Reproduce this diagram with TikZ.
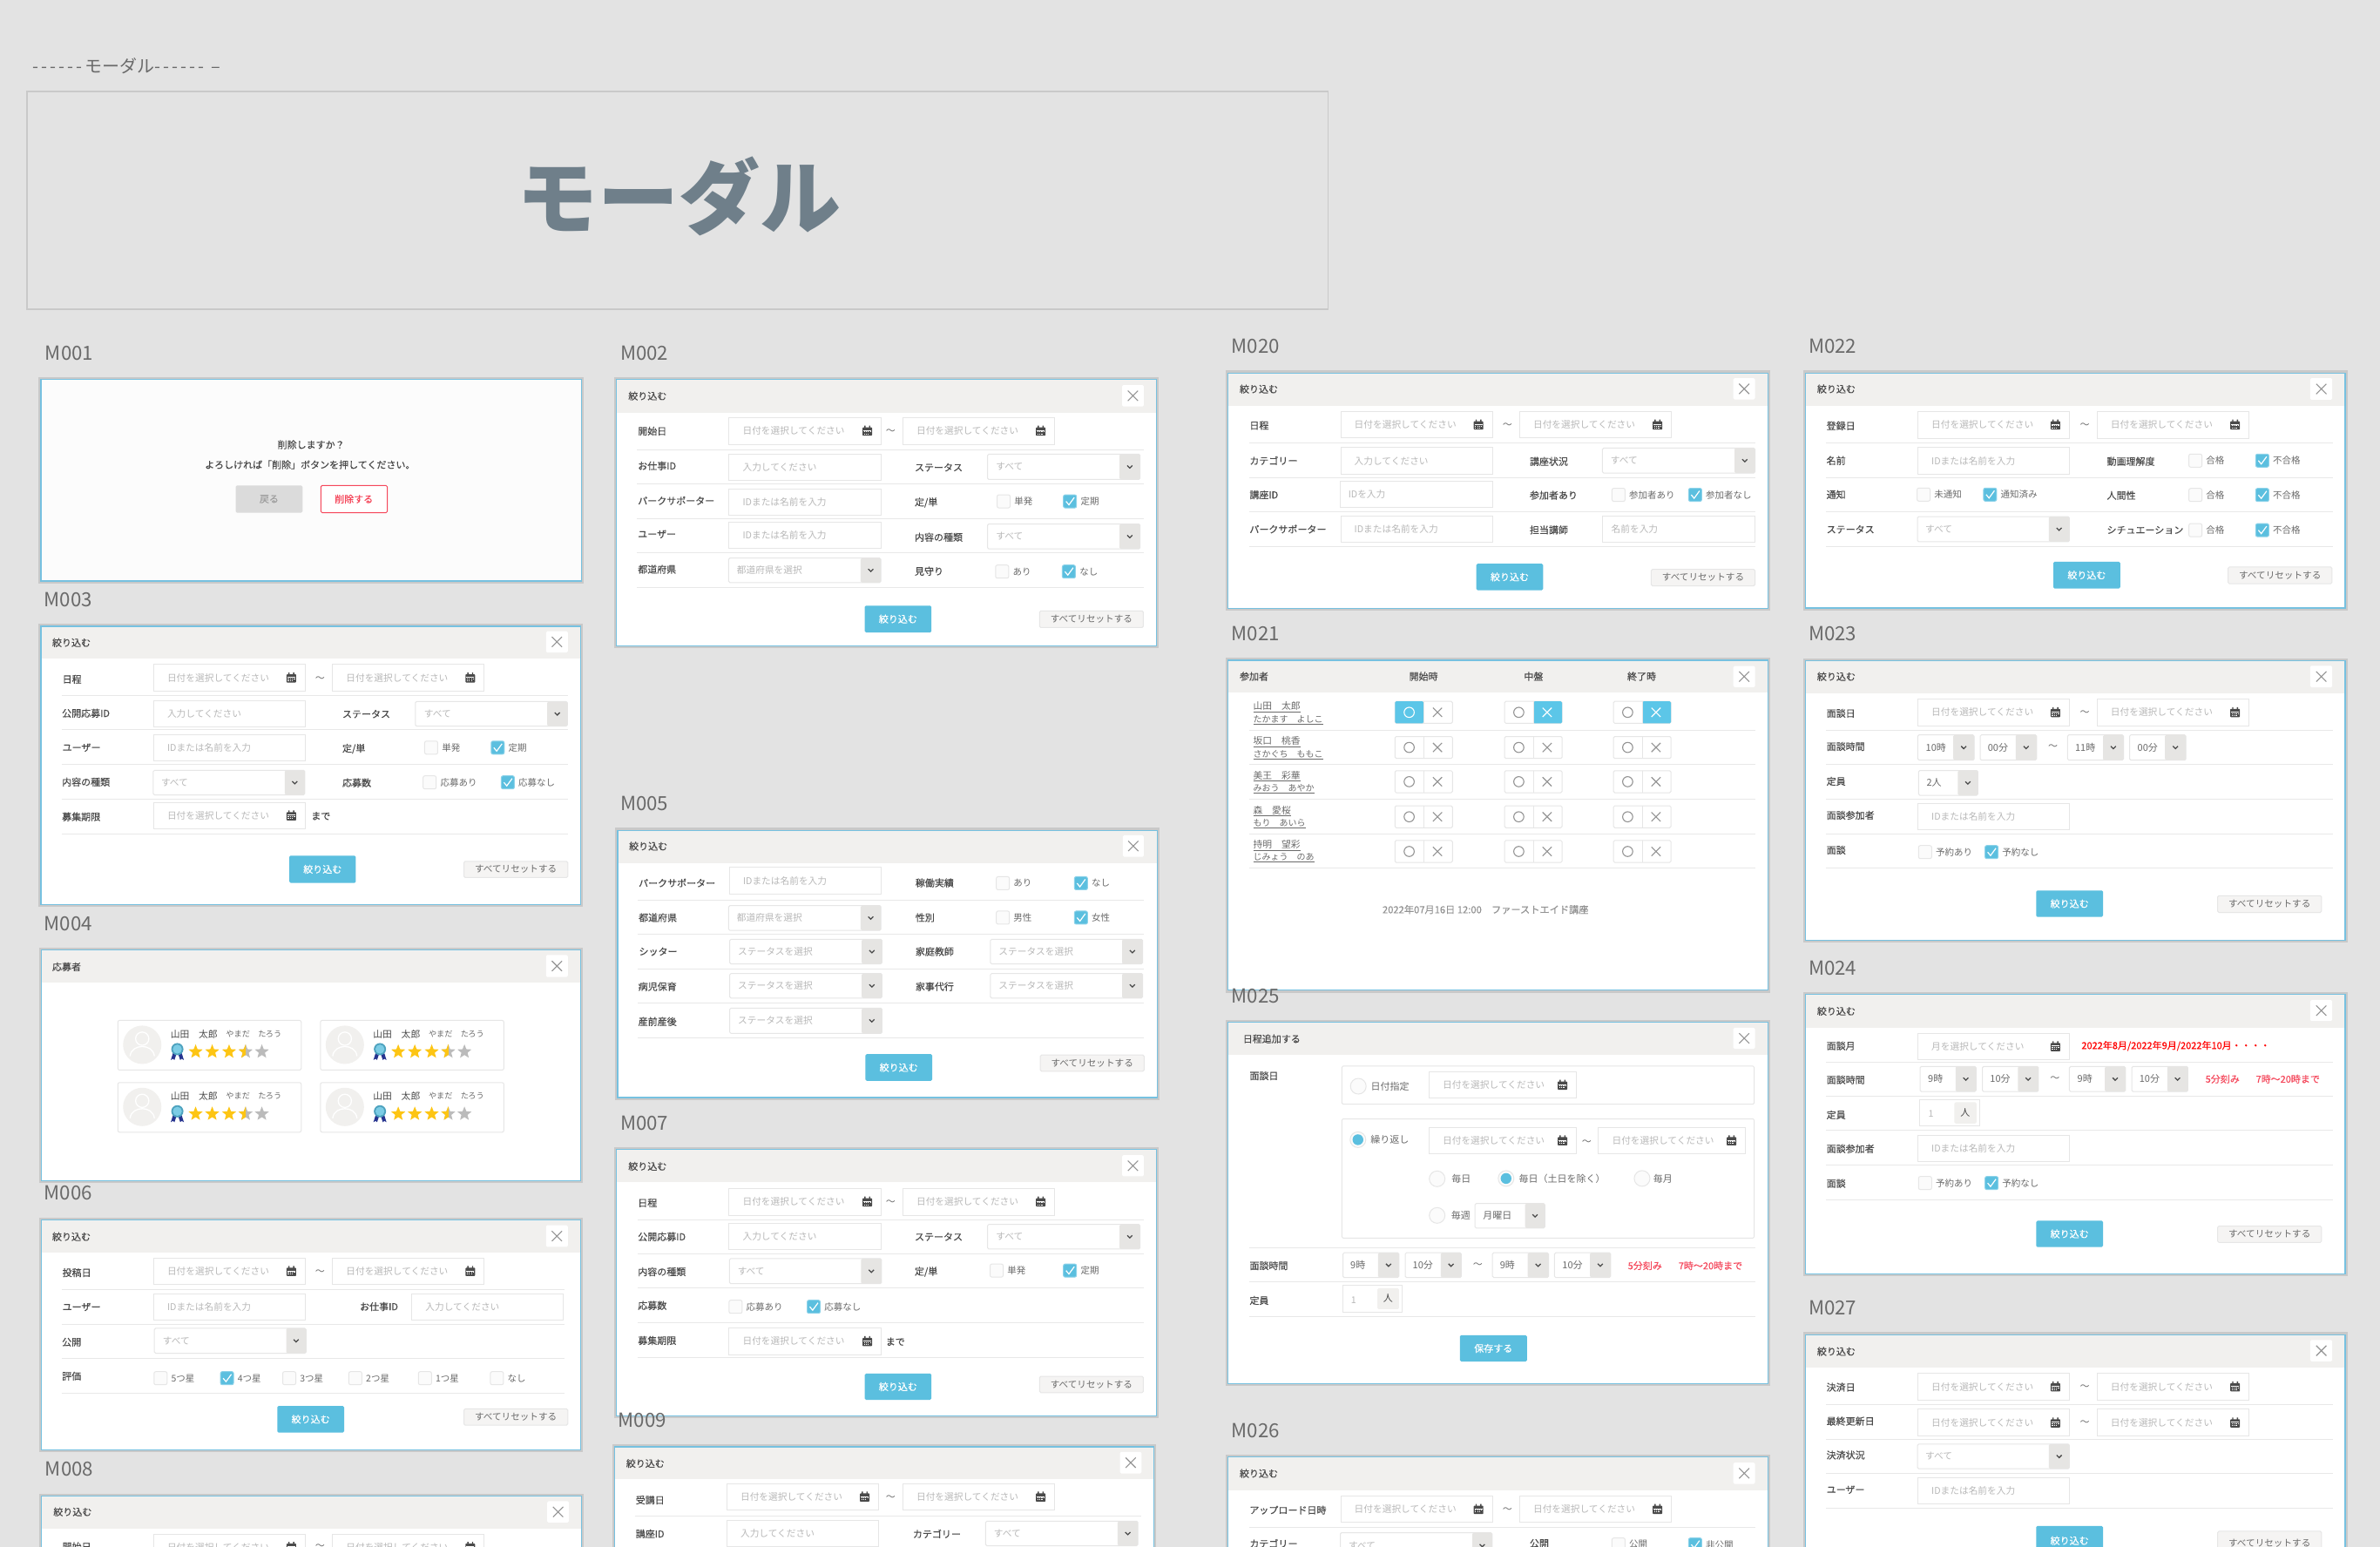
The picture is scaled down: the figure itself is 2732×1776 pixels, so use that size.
\documentclass[tikz,border=0pt]{standalone}
\usepackage{fontspec}
\setmainfont{Noto Sans CJK JP}
\newfontfamily\jpm[FakeBold=0.35]{Noto Sans CJK JP}
\usetikzlibrary{calc,shapes.geometric}
\definecolor{bgc}{HTML}{E3E3E3}
\definecolor{edgec}{HTML}{C9C9C9}
\definecolor{bluee}{HTML}{76C1E0}
\definecolor{headc}{HTML}{F1F0EE}
\definecolor{rulec}{HTML}{E8E8E8}
\definecolor{boxc}{HTML}{E6E6E6}
\definecolor{phc}{HTML}{B8B8B8}
\definecolor{lblc}{HTML}{4A4A4A}
\definecolor{txtc}{HTML}{6A6A6A}
\definecolor{prim}{HTML}{5BBFDF}
\definecolor{togb}{HTML}{5CC6E8}
\definecolor{redt}{HTML}{F5475B}
\definecolor{slate}{HTML}{6F7F8A}
\definecolor{gold}{HTML}{FDC514}
\definecolor{silv}{HTML}{BBBBBB}
\definecolor{navy}{HTML}{26348F}
\tikzset{
  zf/.style n args={4}{shift={(#1pt,-#2pt)},x={(1pt/#3,0pt)},y={(0pt,-1pt/#4)}},
  mtext/.style={anchor=west,inner sep=0pt},
  mlbl/.style={mtext,text=lblc,font=\fontsize{11}{13}\selectfont\jpm},
  mph/.style={mtext,text=phc,font=\fontsize{10.7}{13}\selectfont},
  mopt/.style={mtext,text=txtc,font=\fontsize{10.5}{13}\selectfont},
  mname/.style={mtext,text=txtc,font=\fontsize{22.3}{26}\selectfont},
  mred/.style={mtext,text=redt,font=\fontsize{11}{13}\selectfont\jpm},
  mbox/.style={draw=boxc,line width=1pt,fill=white},
  msmall/.style={draw=boxc,line width=1pt,fill=white,rounded corners=1.5pt},
}
\newcommand\mDashes{-\kern3.1pt-\kern3.1pt-\kern3.1pt-\kern3.1pt-\kern3.1pt-\kern3.1pt}
\newcommand\mName[3]{\node[mname] at (#1,#2) {#3};}
\newcommand\mPanel[5][white]{%
  \fill[edgec] ([shift={(-2.8pt,2.8pt)}]#2,#3) rectangle ([shift={(2.8pt,-2.8pt)}]#4,#5);
  \filldraw[fill=#1,draw=bluee,line width=1.4pt] (#2,#3) rectangle (#4,#5);}
\newcommand\mHead[7]{%
  \fill[headc] ([shift={(.7pt,-.7pt)}]#1,#2) rectangle ([xshift=-.7pt]#3,#4);
  \node[mtext,text=lblc,font=\fontsize{11}{13}\selectfont\jpm] at (#5,#6) {#7};}
\newcommand\mClose[4]{%
  \fill[white,rounded corners=1.5pt] (#1,#2) rectangle (#3,#4);
  \coordinate (mC) at ($(#1,#2)!.5!(#3,#4)$);
  \begin{scope}[shift={(mC)},x=1pt,y=-1pt]
    \draw[color=gray!85,line width=1.1pt] (-5.8,-5.8) -- (5.8,5.8) (-5.8,5.8) -- (5.8,-5.8);
  \end{scope}}
\newcommand\mLbl[3]{\node[mlbl] at (#1,#2) {#3};}
\newcommand\mCal[1]{%
  \begin{scope}[shift={(#1)},x=1pt,y=-1pt]
    \fill[color=lblc,rounded corners=.8pt] (-5.5,-4) rectangle (5.5,5.5);
    \fill[color=lblc] (-3.4,-6) rectangle (-2,-3) (2,-6) rectangle (3.4,-3);
    \fill[white] (-4.3,-.9) rectangle (4.3,-.3);
    \foreach \mx in {-3.4,-1,1.4,3.6}{\fill[white] (\mx-.6,.8) rectangle (\mx+.5,1.8);}
    \foreach \mx in {-3.4,-1,1.4}{\fill[white] (\mx-.6,2.9) rectangle (\mx+.5,3.9);}
  \end{scope}}
\newcommand\mDate[5]{%
  \draw[mbox] (#1,#2) rectangle (#3,#4);
  \coordinate (mL) at ($(#1,#2)!.5!(#1,#4)$);
  \coordinate (mR) at ($(#3,#2)!.5!(#3,#4)$);
  \node[mph] at ([xshift=15.5pt]mL) {#5};
  \mCal{$(mR)+(-16pt,0pt)$}}
\newcommand\mTxt[6][15.5]{%
  \draw[mbox] (#2,#3) rectangle (#4,#5);
  \coordinate (mL) at ($(#2,#3)!.5!(#2,#5)$);
  \node[mph] at ([xshift=#1pt]mL) {#6};}
\newcommand\mSelBase[5]{%
  \draw[msmall] (#1,#2) rectangle (#3,#4);
  \fill[color=headc!90!gray,rounded corners=1.5pt] (#5,#2) rectangle (#3,#4);
  \coordinate (mC) at ($(#5,#2)!.5!(#3,#4)$);
  \begin{scope}[shift={(mC)},x=1pt,y=-1pt]
    \draw[color=lblc,line width=1.25pt] (-2.9,-1.5) -- (0,1.4) -- (2.9,-1.5);
  \end{scope}
  \coordinate (mL) at ($(#1,#2)!.5!(#1,#4)$);}
\newcommand\mSel[7]{\mSelBase{#1}{#2}{#3}{#4}{#5}\coordinate (mT) at (#6,0);\node[mph] at (mT |- mL) {#7};}
\newcommand\mTime[7]{\mSelBase{#1}{#2}{#3}{#4}{#5}\coordinate (mT) at (#6,0);\node[mopt,font=\fontsize{11}{13}\selectfont] at (mT |- mL) {#7};}
\newcommand\mCk[3]{%
  \draw[draw=boxc,fill=white!97!gray,line width=1pt,rounded corners=2pt] ([yshift=7.5pt]#1,#2) rectangle ([shift={(15pt,-7.5pt)}]#1,#2);
  \node[mopt] at ([xshift=19.6pt]#1,#2) {#3};}
\newcommand\mCkOn[3]{%
  \draw[draw=prim!70,fill=prim,line width=1pt,rounded corners=2pt] ([yshift=7.5pt]#1,#2) rectangle ([shift={(15pt,-7.5pt)}]#1,#2);
  \begin{scope}[shift={(#1,#2)},x=1pt,y=-1pt]
    \draw[white,line width=1.2pt] (3,0) -- (6.3,4) -- (12.5,-4.5);
  \end{scope}
  \node[mopt] at ([xshift=19.6pt]#1,#2) {#3};}
\newcommand\mRule[3]{\draw[rulec,line width=1pt] (#1,#3) -- (#2,#3);}
\newcommand\mBtn[5]{%
  \fill[prim,rounded corners=1.5pt] (#1,#2) rectangle (#3,#4);
  \node[inner sep=0pt,text=white,font=\fontsize{11}{13}\selectfont\jpm] at ($(#1,#2)!.5!(#3,#4)$) {#5};}
\newcommand\mReset[4]{%
  \draw[draw=boxc,fill=headc!70!white,line width=1pt,rounded corners=1.5pt] (#1,#2) rectangle (#3,#4);
  \node[inner sep=0pt,text=txtc,font=\fontsize{10.6}{13}\selectfont] at ($(#1,#2)!.5!(#3,#4)$) {すべてリセットする};}
\newcommand\mTilde[2]{\node[inner sep=0pt,text=txtc,font=\fontsize{11}{13}\selectfont] at (#1,#2) {〜};}
\newcommand\mStar[3]{\node[star,star points=5,star point ratio=2.3,inner sep=0pt,minimum size=17pt,fill=#3] at (#1,#2) {};}
\newcommand\mCard[2]{%
  \begin{scope}[shift={(#1,#2)},x=1pt,y=-1pt]
    \draw[draw=boxc,fill=white,line width=1pt,rounded corners=2pt] (0,0) rectangle (210.5,57);
    \fill[headc] (28,28) circle[radius=22pt];
    \draw[white,line width=1.3pt] (28,21) circle[radius=7.6pt];
    \draw[white,line width=1.3pt] (14,41) .. controls (15,33) and (22,30) .. (28,30) .. controls (34,30) and (41,33) .. (42,41);
    \node[mtext,text=lblc,font=\fontsize{10.8}{13}\selectfont] at (60.3,15.5) {山田　太郎};
    \node[mtext,text=txtc,font=\fontsize{9.2}{13}\selectfont] at (124,15.5) {やまだ　たろう};
    \fill[navy] (63.3,37.5) -- (60.8,45.5) -- (63.3,44) -- (65,45.5) -- (67.3,38.5) -- cycle;
    \fill[navy] (73.3,37.5) -- (75.8,45.5) -- (73.3,44) -- (71.6,45.5) -- (69.3,38.5) -- cycle;
    \fill[color=prim!85!black] (68.3,33) circle[radius=7pt];
    \fill[color=prim!80!white] (68.3,33) circle[radius=5.2pt];
    \mStar{89.3}{36}{gold}\mStar{108.3}{36}{gold}\mStar{127.7}{36}{gold}
    \mStar{146.7}{36}{silv}
    \begin{scope}\clip (136,24) rectangle (146.9,48);\mStar{146.7}{36}{gold}\end{scope}
    \mStar{165.3}{36}{silv}
  \end{scope}}
\newcommand\mTog[4]{%
  \coordinate (mA) at ($(#1,#2)!.5!(#1,#3)$);
  \ifnum#4=1 \def\mOc{white}\else\def\mOc{gray!85}\fi
  \ifnum#4=2 \def\mXc{white}\else\def\mXc{gray!85}\fi
  \begin{scope}[shift={(mA)},x=1pt,y=-1pt]
    \draw[draw=boxc,fill=white,line width=1pt,rounded corners=1.5pt] (0,-12.6) rectangle (66,12.6);
    \ifnum#4=1 \fill[togb,rounded corners=1.5pt] (0,-12.6) rectangle (33,12.6);\fi
    \ifnum#4=2 \fill[togb,rounded corners=1.5pt] (33,-12.6) rectangle (66,12.6);\fi
    \draw[boxc,line width=1pt] (33,-12.6) -- (33,12.6);
    \draw[draw=\mOc,line width=1.1pt] (16.3,0) circle[radius=5.8pt];
    \draw[draw=\mXc,line width=1.1pt] (43.6,-5.2) -- (54,5.2) (43.6,5.2) -- (54,-5.2);
  \end{scope}}
\newcommand\mPart[4]{%
  \node[mtext,text=txtc,font=\fontsize{10.8}{13}\selectfont] at (115,#1) {\underline{#3}};
  \node[mtext,text=txtc,font=\fontsize{10}{13}\selectfont] at (115,#2) {\underline{#4}};}
\newcommand\mRadio[3][0]{%
  \draw[draw=boxc,fill=white!97!gray,line width=1pt] (#2,#3) circle[radius=9pt];
  \ifnum#1=1 \fill[prim] (#2,#3) circle[radius=6.2pt];\fi}
\newcommand\mPeople[4]{%
  \draw[draw=boxc,fill=white,line width=1pt] (#1,#2) rectangle (#3,#4);}
\begin{document}
\begin{tikzpicture}[x=1pt,y=1pt]
\useasboundingbox (0pt,0pt) rectangle (2732pt,-1776pt);
\fill[bgc] (0pt,0pt) rectangle (2732pt,-1776pt);
% title block
\node[mtext,text=txtc,font=\fontsize{20}{24}\selectfont] (heading) at (37pt,-76pt) {\mDashes モーダル\mDashes{} –};
\fill[edgec] (30pt,-104pt) rectangle (1525pt,-356pt);
\fill[bgc] (31.5pt,-106pt) rectangle (1523.5pt,-354pt);
\node[inner sep=0pt,text=slate,font=\fontsize{93}{100}\selectfont\bfseries] (bigtitle) at (779pt,-225pt) {モーダル};

% ---------- zoom 1
\begin{scope}[zf={0}{380}{2.24}{2.306}]
\mName{116}{58}{M001}
\mPanel[white!98!gray]{105}{128}{1495}{662}
\node[inner sep=0pt,text=lblc,font=\fontsize{11}{13}\selectfont\jpm] at (800,301) {削除しますか？};
\node[inner sep=0pt,text=lblc,font=\fontsize{11}{13}\selectfont\jpm] at (797,354) {よろしければ「削除」ボタンを押してください。};
\fill[color=gray!28,rounded corners=1.5pt] (606,409) rectangle (778,481);
\node[inner sep=0pt,text=gray!75,font=\fontsize{11}{13}\selectfont\jpm] at (692,445) {戻る};
\draw[draw=redt,fill=white,line width=1pt,rounded corners=1.5pt] (825,409) rectangle (996,481);
\node[inner sep=0pt,text=redt,font=\fontsize{11}{13}\selectfont\jpm] at (910,445) {削除する};
\mName{113}{711}{M003}
\mPanel{105}{782}{1493}{1518}
\mHead{105}{782}{1493}{867}{134}{825}{絞り込む}
\mClose{1404}{795}{1460}{851}
\mLbl{160}{922}{日程}
\mDate{395}{883}{785}{953}{日付を選択してください}
\mTilde{823}{921}
\mDate{855}{883}{1245}{953}{日付を選択してください}
\mRule{159}{1461}{965}
\mLbl{159}{1012}{公開応募ID}
\mTxt{395}{979}{785}{1048}{入力してください}
\mLbl{880}{1014}{ステータス}
\mSel{1068}{981}{1459}{1046}{1407}{1090}{すべて}
\mRule{159}{1461}{1056}
\mLbl{160}{1103}{ユーザー}
\mTxt{395}{1069}{785}{1139}{IDまたは名前を入力}
\mLbl{880}{1106}{定/単}
\mCk{1092}{1103}{単発}
\mCkOn{1263}{1103}{定期}
\mRule{159}{1461}{1147}
\mLbl{159}{1194}{内容の種類}
\mSel{394}{1163}{784}{1228}{732}{414}{すべて}
\mLbl{880}{1196}{応募数}
\mCk{1088}{1195}{応募あり}
\mCkOn{1289}{1195}{応募なし}
\mRule{159}{1461}{1239}
\mLbl{159}{1286}{募集期限}
\mDate{395}{1248}{785}{1318}{日付を選択してください}
\mLbl{800}{1284}{まで}
\mRule{159}{1461}{1331}
\mBtn{744}{1389}{915}{1461}{絞り込む}
\mReset{1193}{1404}{1460}{1447}
\end{scope}

% ---------- zoom 3
\begin{scope}[zf={0}{1040}{2.24}{2.13}]
\mName{113}{44}{M004}
\mPanel{107}{108}{1493}{672}
\mHead{107}{108}{1493}{187}{134}{149}{応募者}
\mClose{1404}{120}{1460}{174}
\mCard{303}{280}\mCard{824}{280}\mCard{303}{432}\mCard{824}{432}
\mName{113}{702}{M006}
\mPanel{107}{768}{1493}{1330}
\mHead{107}{768}{1493}{848}{134}{809}{絞り込む}
\mClose{1404}{781}{1460}{834}
\mLbl{160}{897}{投稿日}
\mDate{395}{861}{785}{926}{日付を選択してください}
\mTilde{823}{897}
\mDate{855}{861}{1245}{926}{日付を選択してください}
\mRule{159}{1452}{938}
\mLbl{160}{981}{ユーザー}
\mTxt{395}{949}{785}{1013}{IDまたは名前を入力}
\mLbl{925}{980}{お仕事ID}
\mTxt{1059}{949}{1449}{1013}{入力してください}
\mRule{159}{1452}{1023}
\mLbl{159}{1067}{公開}
\mSel{397}{1033}{787}{1094}{736}{418}{すべて}
\mRule{159}{1452}{1107}
\mLbl{159}{1150}{評価}
\mCk{396}{1155}{5つ星}
\mCkOn{567}{1155}{4つ星}
\mCk{727}{1155}{3つ星}
\mCk{897}{1155}{2つ星}
\mCk{1076}{1155}{1つ星}
\mCk{1261}{1155}{なし}
\mRule{159}{1452}{1192}
\mBtn{713}{1223}{885}{1288}{絞り込む}
\mReset{1193}{1230}{1460}{1270}
\mName{116}{1377}{M008}
\mPanel{107}{1443}{1495}{1900}
\mHead{107}{1443}{1495}{1523}{137}{1482}{絞り込む}
\mClose{1407}{1456}{1463}{1508}
\mLbl{160}{1567}{開始日}
\mDate{395}{1536}{785}{1600}{日付を選択してください}
\mTilde{823}{1567}
\mDate{855}{1536}{1245}{1600}{日付を選択してください}
\end{scope}

% ---------- zoom 2
\begin{scope}[zf={690}{380}{2.376}{2.306}]
\mName{52}{58}{M002}
\mPanel{42}{128}{1515}{834}
\mHead{42}{128}{1515}{217}{74}{172}{絞り込む}
\mClose{1421}{143}{1480}{200}
\mLbl{100}{265}{開始日}
\mDate{349}{229}{764}{300}{日付を選択してください}
\mTilde{790}{267}
\mDate{823}{229}{1237}{300}{日付を選択してください}
\mRule{98}{1480}{315}
\mLbl{100}{357}{お仕事ID}
\mTxt{349}{326}{764}{396}{入力してください}
\mLbl{855}{361}{ステータス}
\mSel{1054}{326}{1470}{393}{1414}{1077}{すべて}
\mRule{98}{1480}{405}
\mLbl{100}{449}{パークサポーター}
\mTxt{349}{418}{764}{488}{IDまたは名前を入力}
\mLbl{855}{454}{定/単}
\mCk{1080}{451}{単発}
\mCkOn{1261}{451}{定期}
\mRule{98}{1480}{497}
\mLbl{100}{538}{ユーザー}
\mTxt{349}{506}{764}{576}{IDまたは名前を入力}
\mLbl{855}{546}{内容の種類}
\mSel{1054}{511}{1470}{577}{1414}{1077}{すべて}
\mRule{98}{1480}{587}
\mLbl{100}{631}{都道府県}
\mSel{348}{601}{763}{666}{708}{370}{都道府県を選択}
\mLbl{855}{636}{見守り}
\mCk{1076}{637}{あり}
\mCkOn{1258}{637}{なし}
\mRule{98}{1480}{679}
\mBtn{719}{727}{901}{798}{絞り込む}
\mReset{1196}{741}{1479}{785}
\mName{52}{1250}{M005}
\mPanel{45}{1322}{1517}{2029}
\mHead{45}{1322}{1517}{1409}{76}{1364}{絞り込む}
\mClose{1423}{1335}{1480}{1392}
\mLbl{102}{1461}{パークサポーター}
\mTxt{350}{1420}{765}{1491}{IDまたは名前を入力}
\mLbl{857}{1461}{稼働実績}
\mCk{1078}{1462}{あり}
\mCkOn{1291}{1462}{なし}
\mRule{100}{1481}{1507}
\mLbl{102}{1553}{都道府県}
\mSel{348}{1521}{763}{1587}{708}{370}{都道府県を選択}
\mLbl{857}{1553}{性別}
\mCk{1078}{1553}{男性}
\mCkOn{1291}{1553}{女性}
\end{scope}

% ---------- zoom 4
\begin{scope}[zf={690}{1060}{2.376}{2.19}]
\mRule{100}{1481}{27}
\mLbl{103}{71}{シッター}
\mSel{351}{40}{766}{102}{711}{373}{ステータスを選択}
\mLbl{857}{71}{家庭教師}
\mSel{1062}{40}{1477}{102}{1421}{1084}{ステータスを選択}
\mRule{100}{1481}{115}
\mLbl{101}{159}{病児保育}
\mSel{351}{126}{766}{188}{711}{373}{ステータスを選択}
\mLbl{857}{159}{家事代行}
\mSel{1062}{126}{1477}{188}{1421}{1084}{ステータスを選択}
\mRule{100}{1481}{201}
\mLbl{101}{247}{産前産後}
\mSel{351}{213}{766}{277}{711}{373}{ステータスを選択}
\mRule{100}{1481}{288}
\mBtn{721}{329}{903}{396}{絞り込む}
\mReset{1198}{331}{1481}{372}
\mName{52}{502}{M007}
\mPanel{42}{568}{1515}{1238}
\mHead{42}{568}{1515}{651}{74}{611}{絞り込む}
\mClose{1421}{583}{1480}{636}
\mLbl{100}{703}{日程}
\mDate{349}{666}{764}{734}{日付を選択してください}
\mTilde{790}{703}
\mDate{823}{666}{1237}{734}{日付を選択してください}
\mRule{100}{1481}{745}
\mLbl{100}{788}{公開応募ID}
\mTxt{349}{754}{764}{821}{入力してください}
\mLbl{855}{788}{ステータス}
\mSel{1054}{757}{1470}{819}{1414}{1077}{すべて}
\mRule{100}{1481}{831}
\mLbl{100}{876}{内容の種類}
\mSel{350}{843}{765}{906}{709}{372}{すべて}
\mLbl{855}{876}{定/単}
\mCk{1061}{873}{単発}
\mCkOn{1261}{873}{定期}
\mRule{100}{1481}{917}
\mLbl{100}{961}{応募数}
\mCk{349}{964}{応募あり}
\mCkOn{562}{964}{応募なし}
\mRule{100}{1481}{1004}
\mLbl{100}{1049}{募集期限}
\mDate{349}{1017}{764}{1085}{日付を選択してください}
\mLbl{776}{1052}{まで}
\mRule{100}{1481}{1092}
\mBtn{719}{1132}{901}{1198}{絞り込む}
\mReset{1196}{1139}{1479}{1180}
\mPanel{37}{1316}{1508}{1900}
\mName{46}{1249}{M009}
\mHead{37}{1316}{1508}{1398}{68}{1358}{絞り込む}
\mClose{1415}{1329}{1474}{1383}
\mLbl{94}{1450}{受講日}
\mDate{343}{1409}{757}{1475}{日付を選択してください}
\mTilde{790}{1445}
\mDate{823}{1409}{1237}{1475}{日付を選択してください}
\mRule{92}{1474}{1490}
\mLbl{94}{1535}{講座ID}
\mTxt{343}{1501}{757}{1567}{入力してください}
\mLbl{850}{1535}{カテゴリー}
\mSel{1049}{1503}{1464}{1565}{1409}{1071}{すべて}
\end{scope}

% ---------- zoom 5
\begin{scope}[zf={1390}{380}{2.376}{2.01}]
\mName{56}{35}{M020}
\mPanel{47}{97}{1519}{640}
\mHead{47}{97}{1519}{173}{78}{134}{絞り込む}
\mClose{1425}{109}{1484}{158}
\mLbl{105}{218}{日程}
\mDate{354}{186}{768}{247}{日付を選択してください}
\mTilde{809}{218}
\mDate{842}{186}{1256}{247}{日付を選択してください}
\mRule{105}{1485}{258}
\mLbl{105}{299}{カテゴリー}
\mTxt{354}{268}{768}{331}{入力してください}
\mLbl{869}{301}{講座状況}
\mSel{1068}{270}{1484}{328}{1428}{1090}{すべて}
\mRule{105}{1485}{338}
\mLbl{105}{378}{講座ID}
\mTxt[9]{353}{347}{768}{408}{IDを入力}
\mLbl{869}{379}{参加者あり}
\mCk{1094}{378}{参加者あり}
\mCkOn{1303}{378}{参加者なし}
\mRule{105}{1485}{417}
\mLbl{105}{457}{パークサポーター}
\mTxt{354}{427}{768}{487}{IDまたは名前を入力}
\mLbl{869}{459}{担当講師}
\mTxt[10]{1068}{427}{1484}{487}{名前を入力}
\mRule{105}{1485}{497}
\mBtn{724}{537}{906}{598}{絞り込む}
\mReset{1201}{550}{1484}{588}
\mName{56}{698}{M021}
\mPanel{47}{760}{1519}{1521}
\mHead{47}{760}{1519}{835}{78}{797}{参加者}
\mClose{1425}{773}{1484}{822}
\node[inner sep=0pt,text=lblc,font=\fontsize{11}{13}\selectfont\jpm] at (580,797) {開始時};
\node[inner sep=0pt,text=lblc,font=\fontsize{11}{13}\selectfont\jpm] at (880,797) {中盤};
\node[inner sep=0pt,text=lblc,font=\fontsize{11}{13}\selectfont\jpm] at (1175,797) {終了時};
\mPart{868}{898}{山田　太郎}{たかます　よしこ}
\mTog{502}{849}{911}{1}\mTog{801}{849}{911}{2}\mTog{1098}{849}{911}{2}
\mRule{105}{1485}{921}
\mPart{948}{978}{坂口　桃香}{さかぐち　ももこ}
\mTog{502}{931}{991}{0}\mTog{801}{931}{991}{0}\mTog{1098}{931}{991}{0}
\mRule{105}{1485}{1000}
\mPart{1027}{1057}{美王　彩華}{みおう　あやか}
\mTog{502}{1010}{1070}{0}\mTog{801}{1010}{1070}{0}\mTog{1098}{1010}{1070}{0}
\mRule{105}{1485}{1080}
\mPart{1108}{1137}{森　愛桜}{もり　あいら}
\mTog{502}{1091}{1151}{0}\mTog{801}{1091}{1151}{0}\mTog{1098}{1091}{1151}{0}
\mRule{105}{1485}{1160}
\mPart{1187}{1215}{持明　望彩}{じみょう　のあ}
\mTog{502}{1171}{1231}{0}\mTog{801}{1171}{1231}{0}\mTog{1098}{1171}{1231}{0}
\mRule{105}{1485}{1239}
\node[inner sep=0pt,text=gray!85,font=\fontsize{11.2}{13}\selectfont\jpm] at (749,1335) {2022年07月16日 12:00　ファーストエイド講座};
\end{scope}

% ---------- zoom 6
\begin{scope}[zf={1390}{1130}{2.376}{2.427}]
\mPanel{47}{106}{1519}{1113}
\mName{56}{33}{M025}
\mHead{47}{106}{1519}{197}{87}{152}{日程追加する}
\mClose{1425}{121}{1484}{180}
\mLbl{105}{255}{面談日}
\draw[msmall] (357,228) rectangle (1482,334);
\mRadio{402}{284}
\node[mopt,font=\fontsize{11}{13}\selectfont] at (436,284) {日付指定};
\mDate{595}{244}{997}{317}{日付を選択してください}
\draw[msmall] (357,375) rectangle (1482,707);
\mRadio[1]{401}{433}
\node[mopt,font=\fontsize{11}{13}\selectfont] at (435,432) {繰り返し};
\mDate{595}{399}{997}{472}{日付を選択してください}
\mTilde{1025}{441}
\mDate{1057}{399}{1458}{472}{日付を選択してください}
\mRadio{617}{542}
\node[mopt,font=\fontsize{11}{13}\selectfont] at (656,541) {毎日};
\mRadio[1]{805}{541}
\node[mopt,font=\fontsize{11}{13}\selectfont] at (840,541) {毎日（土日を除く）};
\mRadio{1176}{541}
\node[mopt,font=\fontsize{11}{13}\selectfont] at (1206,541) {毎月};
\mRadio{617}{644}
\node[mopt,font=\fontsize{11}{13}\selectfont] at (655,644) {毎週};
\mTime{720}{611}{911}{679}{857}{742}{月曜日}
\mRule{105}{1485}{734}
\mLbl{105}{784}{面談時間}
\mTime{360}{748}{513}{817}{456}{380}{9時}
\mTime{530}{748}{683}{817}{627}{550}{10分}
\mTilde{728}{782}
\mTime{768}{748}{921}{817}{864}{788}{9時}
\mTime{937}{748}{1090}{817}{1034}{958}{10分}
\node[mred] at (1137,784) {5分刻み};
\node[mred] at (1275,784) {7時〜20時まで};
\mRule{105}{1485}{829}
\mLbl{105}{881}{定員}
\mPeople{360}{838}{522}{914}
\node[mph] at (382,881) {1};
\fill[color=headc,rounded corners=1.5pt] (454,847) rectangle (513,905);
\node[inner sep=0pt,text=lblc,font=\fontsize{11}{13}\selectfont] at (483,875) {人};
\mRule{105}{1485}{926}
\mBtn{679}{978}{862}{1051}{保存する}
\mName{56}{1244}{M026}
\mPanel{47}{1317}{1519}{1800}
\mHead{47}{1317}{1519}{1410}{78}{1363}{絞り込む}
\mClose{1425}{1333}{1484}{1392}
\mLbl{105}{1465}{アップロード日時}
\mDate{354}{1426}{768}{1499}{日付を選択してください}
\mTilde{809}{1465}
\mDate{842}{1426}{1256}{1499}{日付を選択してください}
\mRule{105}{1485}{1513}
\mLbl{105}{1558}{カテゴリー}
\mSel{353}{1528}{767}{1600}{713}{375}{すべて}
\mLbl{869}{1558}{公開}
\mCk{1094}{1561}{公開}
\mCkOn{1303}{1561}{非公開}
\end{scope}

% ---------- zoom 7
\begin{scope}[zf={2060}{380}{2.333}{2.178}]
\mName{37}{38}{M022}
\mPanel{29}{105}{1474}{693}
\mHead{29}{105}{1474}{187}{60}{145}{絞り込む}
\mClose{1381}{118}{1440}{172}
\mLbl{85}{237}{登録日}
\mDate{330}{201}{736}{268}{日付を選択してください}
\mTilde{777}{237}
\mDate{810}{201}{1217}{268}{日付を選択してください}
\mRule{85}{1442}{280}
\mLbl{85}{324}{名前}
\mTxt{330}{291}{736}{358}{IDまたは名前を入力}
\mLbl{836}{326}{動画理解度}
\mCk{1056}{324}{合格}
\mCkOn{1235}{324}{不合格}
\mRule{85}{1442}{366}
\mLbl{85}{409}{通知}
\mCk{328}{409}{未通知}
\mCkOn{506}{409}{通知済み}
\mLbl{836}{411}{人間性}
\mCk{1056}{410}{合格}
\mCkOn{1235}{410}{不合格}
\mRule{85}{1442}{452}
\mLbl{85}{496}{ステータス}
\mSel{329}{464}{736}{527}{681}{350}{すべて}
\mLbl{836}{498}{シチュエーション}
\mCk{1056}{498}{合格}
\mCkOn{1235}{498}{不合格}
\mRule{85}{1442}{538}
\mBtn{693}{577}{872}{644}{絞り込む}
\mReset{1161}{590}{1439}{632}
\mName{37}{756}{M023}
\mPanel{29}{824}{1474}{1524}
\mHead{29}{824}{1474}{906}{60}{864}{絞り込む}
\mClose{1381}{837}{1440}{891}
\mLbl{85}{956}{面談日}
\mDate{330}{920}{736}{987}{日付を選択してください}
\mTilde{777}{956}
\mDate{810}{920}{1217}{987}{日付を選択してください}
\mRule{85}{1442}{998}
\mLbl{85}{1039}{面談時間}
\mTime{330}{1010}{481}{1073}{425}{351}{10時}
\mTime{497}{1010}{648}{1073}{592}{517}{00分}
\mTilde{692}{1041}
\mTime{731}{1010}{881}{1073}{826}{751}{11時}
\mTime{897}{1010}{1048}{1073}{992}{918}{00分}
\mRule{85}{1442}{1084}
\mLbl{85}{1126}{定員}
\mTime{332}{1099}{491}{1161}{437}{353}{2人}
\mRule{85}{1442}{1170}
\mLbl{85}{1211}{面談参加者}
\mTxt{330}{1181}{736}{1247}{IDまたは名前を入力}
\mRule{85}{1442}{1258}
\mLbl{85}{1298}{面談}
\mCk{332}{1303}{予約あり}
\mCkOn{510}{1303}{予約なし}
\mRule{85}{1442}{1343}
\mBtn{647}{1399}{826}{1465}{絞り込む}
\mReset{1133}{1412}{1411}{1454}
\end{scope}

% ---------- zoom 8
\begin{scope}[zf={2060}{1090}{2.333}{2.286}]
\mName{37}{49}{M024}
\mPanel{29}{118}{1474}{851}
\mHead{29}{118}{1474}{205}{60}{162}{絞り込む}
\mClose{1381}{133}{1440}{188}
\mLbl{85}{253}{面談月}
\mDate{330}{220}{736}{289}{月を選択してください}
\node[mred,text=red] at (768,253) {2022年8月/2022年9月/2022年10月・・・・};
\mRule{85}{1442}{295}
\mLbl{85}{342}{面談時間}
\mTime{336}{307}{486}{373}{431}{357}{9時}
\mTime{503}{307}{653}{373}{598}{523}{10分}
\mTilde{697}{340}
\mTime{736}{307}{886}{373}{831}{757}{9時}
\mTime{903}{307}{1053}{373}{998}{923}{10分}
\node[mred] at (1100,340) {5分刻み};
\node[mred] at (1235,340) {7時〜20時まで};
\mRule{85}{1442}{385}
\mLbl{85}{434}{定員}
\mPeople{335}{394}{496}{463}
\node[mph] at (358,432) {1};
\fill[color=headc,rounded corners=1.5pt] (428,401) rectangle (487,457);
\node[inner sep=0pt,text=lblc,font=\fontsize{11}{13}\selectfont] at (457,428) {人};
\mRule{85}{1442}{475}
\mLbl{85}{523}{面談参加者}
\mTxt{330}{487}{736}{556}{IDまたは名前を入力}
\mRule{85}{1442}{566}
\mLbl{85}{614}{面談}
\mCk{332}{613}{予約あり}
\mCkOn{510}{613}{予約なし}
\mRule{85}{1442}{657}
\mBtn{647}{712}{826}{781}{絞り込む}
\mReset{1133}{726}{1411}{769}
\mName{37}{940}{M027}
\mPanel{29}{1011}{1474}{1700}
\mHead{29}{1011}{1474}{1097}{60}{1055}{絞り込む}
\mClose{1381}{1025}{1440}{1081}
\mLbl{85}{1149}{決済日}
\mDate{330}{1112}{736}{1183}{日付を選択してください}
\mTilde{777}{1149}
\mDate{810}{1112}{1217}{1183}{日付を選択してください}
\mRule{85}{1442}{1194}
\mLbl{85}{1238}{最終更新日}
\mDate{330}{1207}{736}{1277}{日付を選択してください}
\mTilde{777}{1243}
\mDate{810}{1207}{1217}{1277}{日付を選択してください}
\mRule{85}{1442}{1285}
\mLbl{85}{1327}{決済状況}
\mSel{329}{1298}{736}{1363}{681}{350}{すべて}
\mRule{85}{1442}{1375}
\mLbl{85}{1418}{ユーザー}
\mTxt{330}{1386}{736}{1455}{IDまたは名前を入力}
\mRule{85}{1442}{1466}
\mBtn{647}{1513}{826}{1590}{絞り込む}
\mReset{1133}{1527}{1411}{1590}
\end{scope}
\end{tikzpicture}
\end{document}
